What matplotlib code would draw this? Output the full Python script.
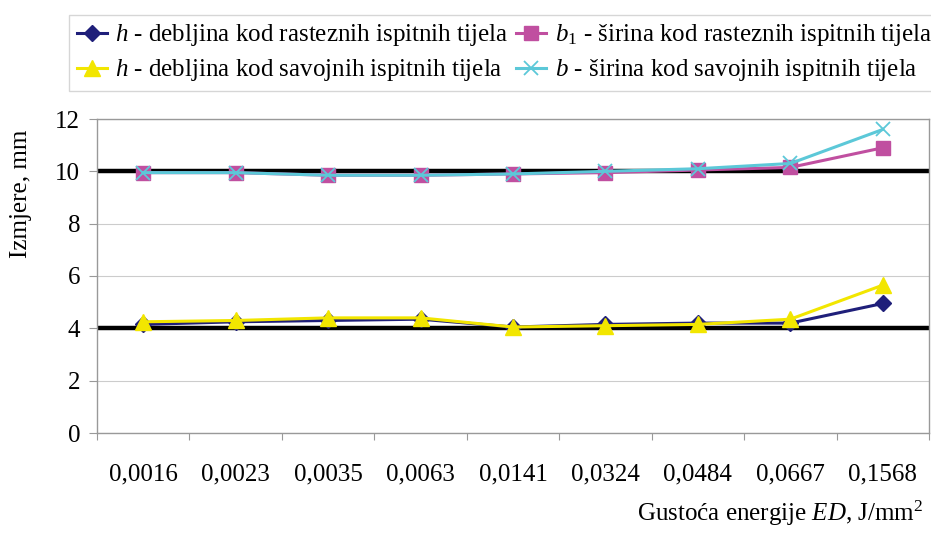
import matplotlib
matplotlib.use("Agg")
import matplotlib.pyplot as plt
import numpy as np

plt.rcParams['font.family'] = ['Liberation Serif', 'DejaVu Serif']
plt.rcParams['mathtext.fontset'] = 'custom'
plt.rcParams['mathtext.rm'] = 'Liberation Serif'
plt.rcParams['mathtext.it'] = 'Liberation Serif:italic'

categories = ['0,0016', '0,0023', '0,0035', '0,0063', '0,0141',
              '0,0324', '0,0484', '0,0667', '0,1568']

h_rastezni = [4.15, 4.25, 4.3, 4.35, 4.05, 4.15, 4.2, 4.2, 4.95]
b1_rastezni = [9.95, 9.95, 9.85, 9.85, 9.9, 9.95, 10.05, 10.15, 10.9]
h_savojni = [4.25, 4.3, 4.4, 4.4, 4.05, 4.1, 4.15, 4.35, 5.65]
b_savojni = [9.95, 9.95, 9.85, 9.85, 9.9, 10.0, 10.1, 10.3, 11.6]

reference_levels = [4, 10]

labels = [r'$h$ - debljina kod rasteznih ispitnih tijela',
          r'$b_1$ - širina kod rasteznih ispitnih tijela',
          r'$h$ - debljina kod savojnih ispitnih tijela',
          r'$b$ - širina kod savojnih ispitnih tijela']

FS = 18

fig = plt.figure(figsize=(9.31, 5.34), dpi=100)
ax = fig.add_axes([97 / 931, 1 - 433 / 534, (929 - 97) / 931, (433 - 119) / 534])

x = np.arange(len(categories))
ax.set_xlim(-0.5, len(categories) - 0.5)
ax.set_ylim(0, 12)

# nominal dimensions drawn as heavy horizontal lines
for lvl in reference_levels:
    ax.axhline(lvl, color='black', lw=3.2, zorder=2)

l1, = ax.plot(x, h_rastezni, color='#1f1f7a', lw=2.2, marker='D', ms=8,
              zorder=3, label=labels[0])
l2, = ax.plot(x, b1_rastezni, color='#c04fa0', lw=2.2, marker='s', ms=10,
              zorder=4, label=labels[1])
l3, = ax.plot(x, h_savojni, color='#f2e600', lw=2.2, marker='^', ms=11,
              zorder=5, label=labels[2])
l4, = ax.plot(x, b_savojni, color='#5cc8d8', lw=2.2, marker='x', ms=10,
              mew=1.3, zorder=6, label=labels[3])

ax.set_yticks(np.arange(0, 13, 2))
ax.yaxis.grid(True, color='#cccccc', lw=0.8, zorder=0)
ax.set_axisbelow(True)

ax.set_xticks(x)
ax.set_xticklabels(categories)
ax.set_xticks(np.arange(-0.5, len(categories), 1), minor=True)
ax.tick_params(axis='x', which='major', length=0, pad=22, labelsize=FS)
ax.tick_params(axis='x', which='minor', length=5, color='#999999', width=0.8)
ax.tick_params(axis='y', length=6, color='#999999', width=0.8, labelsize=FS, pad=6)

for s in ax.spines.values():
    s.set_color('#999999')
    s.set_linewidth(1)

fig.text(21 / 931, 1 - 194 / 534, 'Izmjere, mm', rotation=90, fontsize=FS,
         ha='center', va='center')
fig.text(923 / 931, 1 - 513 / 534, r'Gustoća energije $ED$, J/mm$^2$', fontsize=FS,
         ha='right', va='center')

leg = fig.legend(handles=[l1, l3, l2, l4], ncol=2, loc='upper left',
                 bbox_to_anchor=(69 / 931, 1 - 15 / 534), fontsize=FS,
                 frameon=True, fancybox=False, edgecolor='#cccccc',
                 handlelength=1.2, handletextpad=0.35, columnspacing=0.3,
                 labelspacing=0.35, borderpad=0.3, borderaxespad=0)
leg.get_frame().set_linewidth(1)

fig.savefig('out.png', dpi=100)
